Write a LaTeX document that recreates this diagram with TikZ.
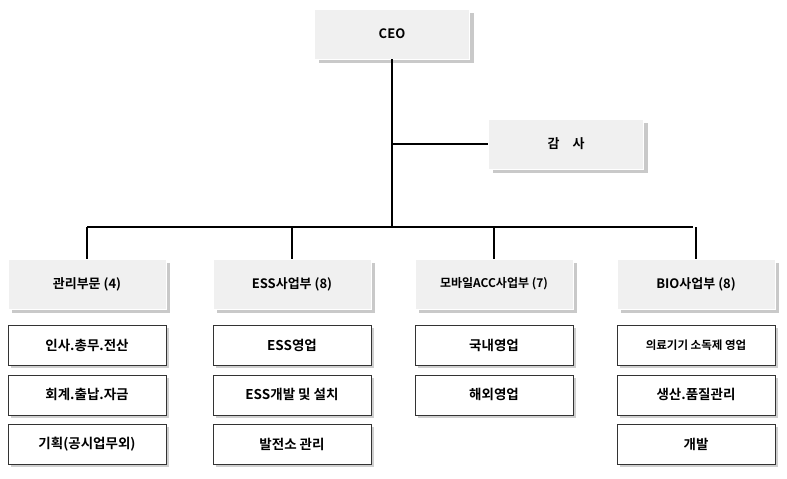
\documentclass[tikz,border=0pt]{standalone}
\usepackage{fontspec}
\setmainfont{Noto Sans CJK KR}[BoldFont={Noto Sans CJK KR Bold}]
\usetikzlibrary{shadows,positioning}
\tikzset{
  headbox/.style={draw=white,fill=gray!12,minimum width=155pt,minimum height=50pt,
    drop shadow={shadow xshift=4pt,shadow yshift=-4pt,fill=gray!85},font=\bfseries\fontsize{13}{15}\selectfont},
  unitbox/.style={draw=black!80,fill=white,minimum width=158pt,minimum height=40pt,
    drop shadow={shadow xshift=3pt,shadow yshift=-3pt,fill=gray!75},font=\bfseries\fontsize{13.5}{15}\selectfont},
  link/.style={line width=1.6pt}
}
\begin{document}
\begin{tikzpicture}[x=1pt,y=-1pt]
\useasboundingbox (0,0) rectangle (787,479);
\node[headbox] (ceo) at (392,34) {CEO};
\node[headbox] (audit) at (566,144) {감\quad 사};
\coordinate (hub) at (392,144);
\coordinate (bus) at (392,227);
\draw[link] (ceo) -- (bus);
\draw[link] (hub) -- (audit);
\draw[link] (87,227) -- (693,227);

\foreach \x/\name/\txt in {87/mgmt/관리부문 (4), 292/ess/ESS사업부 (8), 494/mob/{\fontsize{12}{14}\selectfont 모바일ACC사업부 (7)}, 696/bio/BIO사업부 (8)}{
  \node[headbox,minimum width=158pt] (\name) at (\x,284) {\txt};
  \draw[link] (\x,227) -- (\name.north);
}

\foreach \name/\a/\b/\c in {mgmt/인사.총무.전산/회계.출납.자금/기획(공시업무외), ess/ESS영업/ESS개발 및 설치/발전소 관리}{
  \node[unitbox,below=16pt of \name] (\name1) {\a};
  \node[unitbox,below=9pt of \name1] (\name2) {\b};
  \node[unitbox,below=9pt of \name2] (\name3) {\c};
}
\node[unitbox,below=16pt of mob] (mob1) {국내영업};
\node[unitbox,below=9pt of mob1] (mob2) {해외영업};
\node[unitbox,below=16pt of bio,font=\bfseries\fontsize{11.5}{13}\selectfont] (bio1) {의료기기 소독제 영업};
\node[unitbox,below=9pt of bio1] (bio2) {생산.품질관리};
\node[unitbox,below=9pt of bio2] (bio3) {개발};
\end{tikzpicture}
\end{document}
